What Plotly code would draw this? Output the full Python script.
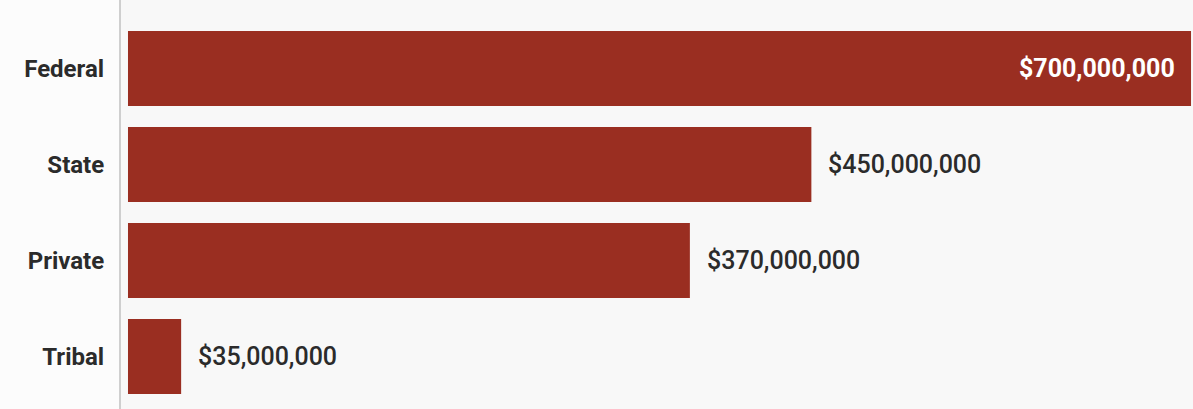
import plotly.graph_objects as go

# Funding by source
categories = ["Federal", "State", "Private", "Tribal"]
amounts = [700_000_000, 450_000_000, 370_000_000, 35_000_000]
value_labels = ["$700,000,000", "$450,000,000", "$370,000,000", "$35,000,000"]

BAR_COLOR = "#9a2e21"
TEXT_COLOR = "#2b2b2b"
FONT = "Roboto, Liberation Sans, Arial, sans-serif"

fig = go.Figure(
    go.Bar(
        x=amounts,
        y=categories,
        orientation="h",
        marker=dict(color=BAR_COLOR, line=dict(width=0)),
        hoverinfo="skip",
    )
)

# Value labels: the largest bar carries its label inside, the rest just past the bar end
for i, (cat, val, lab) in enumerate(zip(categories, amounts, value_labels)):
    inside = i == 0
    fig.add_annotation(
        x=val,
        y=cat,
        text=lab,
        showarrow=False,
        xanchor="right" if inside else "left",
        xshift=-14 if inside else 15,
        font=dict(family=FONT, size=25, color="white" if inside else TEXT_COLOR,
                  weight=700 if inside else 500),
    )

fig.update_layout(
    width=1193,
    height=409,
    margin=dict(l=121, r=0, t=0, b=0),
    paper_bgcolor="#fcfcfc",
    plot_bgcolor="#f8f8f8",
    bargap=0.22,
    showlegend=False,
    xaxis=dict(
        range=[-4.6e6, 701.3e6],
        showgrid=False,
        zeroline=False,
        showticklabels=False,
        showline=False,
        fixedrange=True,
    ),
    yaxis=dict(
        categoryorder="array",
        categoryarray=categories,
        range=[3.547, -0.714],
        showgrid=False,
        zeroline=False,
        showline=True,
        linecolor="#cfcfcf",
        linewidth=2,
        ticks="",
        ticklabelstandoff=10,
        tickfont=dict(family=FONT, size=24, color=TEXT_COLOR, weight=700),
        fixedrange=True,
    ),
)

fig.write_html("out.html")
